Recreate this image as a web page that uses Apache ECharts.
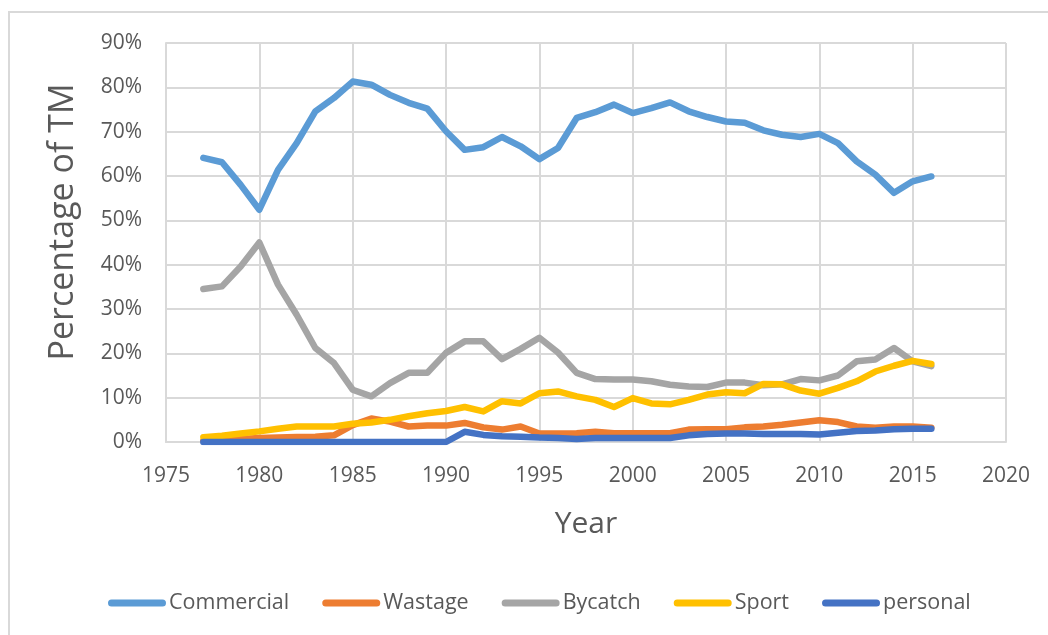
<!DOCTYPE html>
<html>
<head>
<meta charset="utf-8">
<script src="https://cdn.jsdelivr.net/npm/echarts@6/dist/echarts.min.js"></script>
<style>
  html, body { margin: 0; padding: 0; background: #fff; }
  #chart { width: 1048px; height: 635px; }
</style>
</head>
<body>
<div id="chart"></div>
<script>
const YEARS = [1977, 1978, 1979, 1980, 1981, 1982, 1983, 1984, 1985, 1986,
  1987, 1988, 1989, 1990, 1991, 1992, 1993, 1994, 1995, 1996,
  1997, 1998, 1999, 2000, 2001, 2002, 2003, 2004, 2005, 2006,
  2007, 2008, 2009, 2010, 2011, 2012, 2013, 2014, 2015, 2016];

// percentage of TM per year
const COMMERCIAL = [64.1, 63.1, 58.0, 52.4, 61.4, 67.4, 74.6, 77.6, 81.3, 80.6,
  78.3, 76.5, 75.2, 70.1, 65.9, 66.5, 68.8, 66.7, 63.8, 66.3,
  73.1, 74.4, 76.1, 74.2, 75.3, 76.6, 74.6, 73.3, 72.3, 72.0,
  70.3, 69.3, 68.8, 69.5, 67.4, 63.3, 60.3, 56.2, 58.8, 59.9];
const WASTAGE = [0.3, 0.5, 0.7, 0.9, 1.0, 1.1, 1.2, 1.5, 3.8, 5.3,
  4.6, 3.5, 3.7, 3.7, 4.3, 3.3, 2.8, 3.5, 1.9, 1.9,
  2.0, 2.3, 2.0, 2.0, 2.0, 2.0, 2.8, 2.9, 2.9, 3.3,
  3.5, 3.9, 4.4, 4.9, 4.5, 3.5, 3.2, 3.5, 3.5, 3.2];
const BYCATCH = [34.5, 35.1, 39.6, 45.0, 35.5, 28.7, 21.2, 17.8, 11.8, 10.3,
  13.3, 15.6, 15.6, 20.1, 22.7, 22.7, 18.7, 21.0, 23.5, 20.2,
  15.6, 14.2, 14.1, 14.1, 13.7, 12.9, 12.5, 12.4, 13.4, 13.4,
  12.8, 13.0, 14.2, 13.9, 15.0, 18.2, 18.6, 21.2, 18.2, 17.1];
const SPORT = [1.1, 1.4, 1.9, 2.4, 3.0, 3.5, 3.5, 3.5, 4.1, 4.4,
  5.0, 5.8, 6.5, 7.0, 7.9, 6.9, 9.2, 8.7, 11.0, 11.4,
  10.3, 9.5, 7.9, 9.9, 8.7, 8.5, 9.5, 10.7, 11.2, 11.0,
  13.1, 13.0, 11.6, 10.9, 12.2, 13.7, 15.9, 17.2, 18.3, 17.6];
const PERSONAL = [0, 0, 0, 0, 0, 0, 0, 0, 0, 0,
  0, 0, 0, 0, 2.3, 1.6, 1.3, 1.2, 1.0, 0.9,
  0.7, 0.9, 0.9, 0.9, 0.9, 0.9, 1.5, 1.8, 1.9, 1.9,
  1.8, 1.8, 1.8, 1.7, 2.1, 2.5, 2.6, 2.9, 3.0, 3.0];

const SERIES = [
  { name: "Commercial", color: "#5b9bd5", values: COMMERCIAL },
  { name: "Wastage", color: "#ed7d31", values: WASTAGE },
  { name: "Bycatch", color: "#a5a5a5", values: BYCATCH },
  { name: "Sport", color: "#ffc000", values: SPORT },
  { name: "personal", color: "#4472c4", values: PERSONAL },
];

const FONT = "'Open Sans', Lato, sans-serif";
const TEXT = "#595959";
const GRID = "#d9d9d9";

function renderChart() {
  const chart = echarts.init(document.getElementById("chart"));

  const series = SERIES.map((s) => ({
    name: s.name,
    type: "line",
    data: YEARS.map((y, i) => [y, s.values[i]]),
    color: s.color,
    showSymbol: false,
    symbol: "none",
    lineStyle: { width: 6.5, color: s.color, cap: "round", join: "round" },
  }));

  const option = {
    animation: false,
    textStyle: { fontFamily: FONT },
    graphic: [
      {
        type: "rect",
        shape: { x: 9, y: 12, width: 1100, height: 700 },
        style: { fill: "none", stroke: GRID, lineWidth: 2 },
        silent: true,
      },
      {
        // y axis title (Excel puts it a bit above the plot centre)
        type: "text",
        x: 63,
        y: 222,
        rotation: Math.PI / 2,
        style: {
          text: "Percentage of TM",
          fill: TEXT,
          font: "34px 'Open Sans', Lato, sans-serif",
          align: "center",
          verticalAlign: "middle",
        },
        silent: true,
      },
    ],
    grid: { left: 166, top: 43, right: 42, bottom: 193 },
    xAxis: {
      type: "value",
      min: 1975,
      max: 2020,
      interval: 5,
      name: "Year",
      nameLocation: "middle",
      nameGap: 67,
      nameTextStyle: { color: TEXT, fontSize: 30, fontFamily: FONT },
      axisLine: { show: true, lineStyle: { color: GRID, width: 2 } },
      axisTick: { show: false },
      axisLabel: {
        color: TEXT, fontSize: 21, margin: 24, fontFamily: FONT,
        formatter: (v) => String(v),
      },
      splitLine: { show: true, lineStyle: { color: GRID, width: 2 } },
    },
    yAxis: {
      type: "value",
      min: 0,
      max: 90,
      interval: 10,
      axisLine: { show: true, lineStyle: { color: GRID, width: 2 } },
      axisTick: { show: false },
      axisLabel: { color: TEXT, fontSize: 21, margin: 24, formatter: "{value}%", fontFamily: FONT },
      splitLine: { show: true, lineStyle: { color: GRID, width: 2 } },
    },
    legend: {
      left: 103,
      top: 587,
      itemWidth: 58,
      itemHeight: 7,
      itemGap: 33,
      icon: "path://M3.5,0 L54.5,0 A3.5,3.5 0 0 1 54.5,7 L3.5,7 A3.5,3.5 0 0 1 3.5,0 Z",
      textStyle: { color: TEXT, fontSize: 21.5, padding: [0, 0, 0, -2], fontFamily: FONT },
      data: SERIES.map((s) => s.name),
    },
    series: series,
  };

  chart.setOption(option);
}

document.addEventListener("DOMContentLoaded", function () {
  renderChart();
});
</script>
</body>
</html>
